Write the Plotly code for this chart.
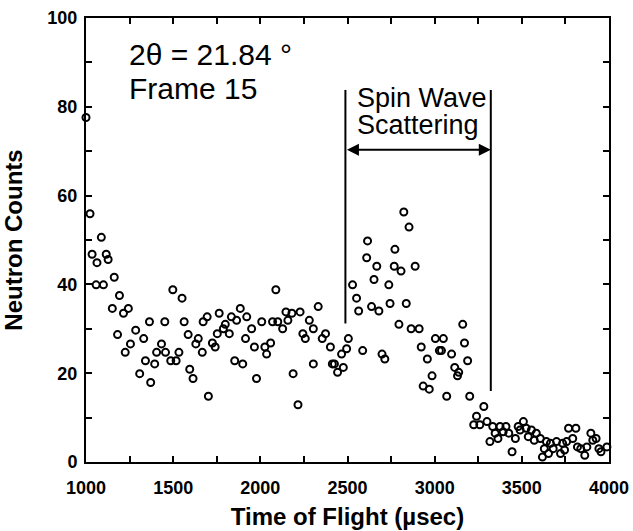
import plotly.graph_objects as go

# Time-of-flight bins (usec) and neutron counts
tof = [1000, 1023, 1035, 1058, 1063, 1088, 1100, 1116, 1127, 1151, 1162, 1181, 1192, 1215, 1225,
       1243, 1255, 1285, 1308, 1331, 1341, 1364, 1371, 1394, 1405, 1433, 1452, 1456, 1486, 1498,
       1517, 1533, 1551, 1563, 1586, 1595, 1614, 1630, 1644, 1667, 1672, 1695, 1702, 1725, 1741,
       1753, 1764, 1788, 1799, 1822, 1834, 1853, 1864, 1885, 1899, 1915, 1922, 1950, 1966, 1978,
       2008, 2026, 2036, 2059, 2070, 2089, 2100, 2128, 2147, 2158, 2181, 2188, 2216, 2228, 2244,
       2258, 2281, 2304, 2304, 2332, 2355, 2374, 2402, 2413, 2425, 2443, 2466, 2476, 2495, 2505,
       2529, 2552, 2564, 2587, 2610, 2615, 2638, 2652, 2668, 2680, 2698, 2714, 2737, 2744, 2768,
       2772, 2795, 2807, 2823, 2837, 2853, 2865, 2888, 2911, 2923, 2934, 2958, 2969, 2985, 3004,
       3027, 3039, 3050, 3069, 3097, 3115, 3131, 3138, 3161, 3171, 3189, 3201, 3224, 3240, 3259,
       3282, 3300, 3317, 3333, 3347, 3363, 3375, 3393, 3409, 3425, 3444, 3463, 3479, 3490, 3509,
       3525, 3537, 3555, 3571, 3583, 3606, 3618, 3629, 3641, 3653, 3664, 3680, 3699, 3722, 3734,
       3745, 3757, 3768, 3792, 3810, 3819, 3838, 3861, 3873, 3896, 3907, 3926, 3942, 3954, 3988]

counts = [77.6, 55.9, 46.8, 39.9, 44.9, 50.6, 39.9, 46.8, 45.6, 34.6, 41.6, 28.7, 37.5, 33.5, 24.7,
          34.6, 26.6, 29.7, 19.9, 27.8, 22.8, 31.6, 17.9, 22.1, 24.7, 26.6, 31.6, 24.7, 22.8, 38.8,
          22.8, 24.7, 36.9, 31.6, 28.7, 20.9, 18.8, 26.6, 27.8, 24.7, 31.6, 32.7, 14.8, 26.8, 25.9,
          28.9, 33.5, 30.0, 31.0, 28.9, 32.7, 22.8, 31.9, 34.6, 22.1, 27.8, 32.7, 30.0, 25.9, 18.8,
          31.6, 25.9, 24.3, 26.8, 31.6, 38.8, 31.6, 30.0, 33.8, 31.9, 33.5, 19.9, 12.9, 33.8, 28.9,
          27.8, 31.9, 30.0, 22.1, 35.0, 27.8, 28.9, 25.9, 22.1, 22.1, 20.2, 24.3, 21.3, 25.5, 27.8,
          39.9, 36.9, 34.0, 25.1, 46.0, 49.8, 35.0, 41.1, 44.1, 34.0, 24.3, 23.2, 39.9, 35.7, 44.1,
          47.9, 31.0, 43.0, 56.3, 35.7, 52.9, 30.0, 44.1, 30.0, 25.9, 17.1, 23.2, 16.4, 19.4, 27.8,
          25.1, 25.1, 27.8, 14.8, 24.3, 21.3, 19.4, 20.2, 31.0, 26.8, 22.8, 14.8, 8.4, 10.3, 8.4,
          12.5, 9.1, 4.6, 8.0, 6.5, 5.3, 8.0, 6.8, 8.0, 6.5, 2.3, 5.3, 8.0, 7.2, 9.1,
          7.6, 5.7, 7.2, 4.9, 6.5, 5.3, 1.1, 3.0, 4.6, 1.9, 4.2, 3.0, 4.6, 1.9, 4.2,
          2.7, 4.6, 7.6, 5.3, 7.6, 3.4, 3.0, 1.5, 3.4, 6.5, 4.9, 5.3, 3.0, 2.3, 3.4]

# spin wave scattering window
sw_start, sw_end = 2488, 3322
sw_start_span = (31.2, 83.8)
sw_end_span = (16.0, 83.8)
arrow_y = 70.3

FONT = "Liberation Sans, Arial, sans-serif"

fig = go.Figure()
fig.add_trace(go.Scatter(
    x=tof, y=counts, mode="markers",
    marker=dict(symbol="circle-open", size=7, color="black", line=dict(width=2, color="black")),
    cliponaxis=False, showlegend=False,
))

# window boundaries
fig.add_shape(type="line", x0=sw_start, x1=sw_start, y0=sw_start_span[0], y1=sw_start_span[1],
              line=dict(color="black", width=2))
fig.add_shape(type="line", x0=sw_end, x1=sw_end, y0=sw_end_span[0], y1=sw_end_span[1],
              line=dict(color="black", width=2))
# double arrow
fig.add_annotation(x=sw_end, y=arrow_y, ax=sw_start, ay=arrow_y, axref="x", ayref="y",
                   xref="x", yref="y", text="", showarrow=True, arrowside="end+start",
                   arrowhead=2, arrowsize=1.2, arrowwidth=2, arrowcolor="black")

fig.add_annotation(x=2545, y=82.0, xref="x", yref="y", text="Spin Wave", showarrow=False,
                   xanchor="left", font=dict(family=FONT, size=27, color="black"))
fig.add_annotation(x=2545, y=75.9, xref="x", yref="y", text="Scattering", showarrow=False,
                   xanchor="left", font=dict(family=FONT, size=27, color="black"))

fig.add_annotation(x=1236, y=91.7, xref="x", yref="y", text="2θ = 21.84 °", showarrow=False,
                   xanchor="left", font=dict(family=FONT, size=30, color="black"))
fig.add_annotation(x=1236, y=84.2, xref="x", yref="y", text="Frame 15", showarrow=False,
                   xanchor="left", font=dict(family=FONT, size=30, color="black"))

axis_common = dict(
    showline=True, linecolor="black", linewidth=2, mirror="allticks",
    ticks="inside", ticklen=6, tickwidth=2, tickcolor="black",
    showgrid=False, zeroline=False,
    tickfont=dict(family=FONT, size=18, color="black", weight="bold"),
)

fig.update_xaxes(
    range=[1000, 4000], dtick=500, tick0=1000, ticklabelstandoff=8,
    minor=dict(dtick=250, ticks="inside", ticklen=6, tickwidth=2, tickcolor="black", showgrid=False),
    title=dict(text="Time of Flight (µsec)", font=dict(family=FONT, size=24, color="black", weight="bold"),
               standoff=12),
    **axis_common,
)
fig.update_yaxes(
    range=[0, 100], dtick=20, tick0=0, ticklabelstandoff=3,
    minor=dict(dtick=10, ticks="inside", ticklen=6, tickwidth=2, tickcolor="black", showgrid=False),
    title=dict(text="Neutron Counts", font=dict(family=FONT, size=24, color="black", weight="bold"),
               standoff=28),
    **axis_common,
)

fig.update_layout(
    width=633, height=531,
    margin=dict(l=86, r=24, t=18, b=69, autoexpand=False),
    plot_bgcolor="white", paper_bgcolor="white",
    showlegend=False,
)

# drop the default page margin so the figure sits flush in the window
fig.write_html("out.html", config={"displayModeBar": False},
               post_script="document.body.style.margin='0px';")
